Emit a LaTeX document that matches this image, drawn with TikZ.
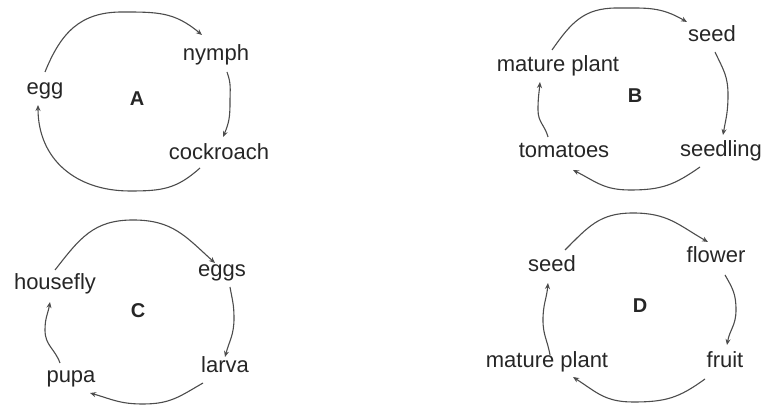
\documentclass[tikz,border=0pt]{standalone}
\usepackage{fontspec}
\setmainfont{Liberation Sans}
\usetikzlibrary{arrows.meta}
\tikzset{
  lbl/.style={anchor=base, inner sep=0pt, text=black!85, font=\fontsize{22}{26}\selectfont},
  tag/.style={anchor=base, inner sep=0pt, text=black!85, font=\fontsize{20}{24}\selectfont\bfseries},
  cyc/.style={draw=black!70, line width=1.1pt, looseness=1.1, -{Stealth[length=6pt,width=5pt]}}
}
\begin{document}
\begin{tikzpicture}[x=1pt,y=1pt]
\useasboundingbox (0,0) rectangle (761,406);
% ---------- A ----------
\node[lbl] (nymph) at (216,345) {nymph};
\node[lbl] (egg) at (45,311) {egg};
\node[lbl] (cockroach) at (219,246) {cockroach};
\node[tag] (A) at (137,300) {A};
\coordinate (a1s) at (45,334);  \coordinate (a1m) at (122,394); \coordinate (a1e) at (202,371);
\coordinate (a2s) at (227,334); \coordinate (a2m) at (230,304); \coordinate (a2e) at (223,269);
\coordinate (a3s) at (200,238); \coordinate (a3m) at (130,215); \coordinate (a3e) at (38,301);
\draw[cyc] (a1s) to[out=68,in=180] (a1m) to[out=0,in=140] (a1e);
\draw[cyc] (a2s) to[out=-70,in=90] (a2m) to[out=-90,in=67] (a2e);
\draw[cyc] (a3s) to[out=-138,in=0] (a3m) to[out=180,in=-90] (a3e);
% ---------- B ----------
\node[lbl] (seedB) at (712,364) {seed};
\node[lbl] (matureB) at (558,334) {mature plant};
\node[lbl] (seedling) at (721,249) {seedling};
\node[lbl] (tomatoes) at (564,248) {tomatoes};
\node[tag] (B) at (635,303) {B};
\coordinate (b1s) at (552,356); \coordinate (b1m) at (617,398); \coordinate (b1e) at (687,384);
\coordinate (b2s) at (715,354); \coordinate (b2m) at (728,311); \coordinate (b2e) at (723,271);
\coordinate (b3s) at (700,239); \coordinate (b3m) at (630,216); \coordinate (b3e) at (573,236);
\coordinate (b4s) at (548,269); \coordinate (b4m) at (538,296); \coordinate (b4e) at (540,324);
\draw[cyc] (b1s) to[out=55,in=180] (b1m) to[out=0,in=150] (b1e);
\draw[cyc] (b2s) to[out=-65,in=90] (b2m) to[out=-90,in=80] (b2e);
\draw[cyc] (b3s) to[out=-145,in=0] (b3m) to[out=180,in=-27] (b3e);
\draw[cyc] (b4s) to[out=105,in=-90] (b4m) to[out=90,in=-95] (b4e);
% ---------- C ----------
\node[lbl] (eggs) at (222,129) {eggs};
\node[lbl] (housefly) at (55,116) {housefly};
\node[lbl] (larva) at (225,33) {larva};
\node[lbl] (pupa) at (71,23) {pupa};
\node[tag] (C) at (138,88) {C};
\coordinate (c1s) at (55,136);  \coordinate (c1m) at (133,186); \coordinate (c1e) at (215,143);
\coordinate (c2s) at (230,119); \coordinate (c2m) at (234,88);  \coordinate (c2e) at (225,49);
\coordinate (c3s) at (203,23);  \coordinate (c3m) at (143,2);   \coordinate (c3e) at (90,13);
\coordinate (c4s) at (60,43);   \coordinate (c4m) at (45,76);   \coordinate (c4e) at (50,104);
\draw[cyc] (c1s) to[out=52,in=180] (c1m) to[out=0,in=138] (c1e);
\draw[cyc] (c2s) to[out=-80,in=90] (c2m) to[out=-90,in=75] (c2e);
\draw[cyc] (c3s) to[out=-150,in=0] (c3m) to[out=180,in=-16] (c3e);
\draw[cyc] (c4s) to[out=110,in=-90] (c4m) to[out=90,in=-100] (c4e);
% ---------- D ----------
\node[lbl] (flower) at (716,143) {flower};
\node[lbl] (seedD) at (552,134) {seed};
\node[lbl] (fruit) at (725,38) {fruit};
\node[lbl] (matureD) at (547,38) {mature plant};
\node[tag] (D) at (640,93) {D};
\coordinate (d1s) at (565,156); \coordinate (d1m) at (633,193); \coordinate (d1e) at (708,164);
\coordinate (d2s) at (725,131); \coordinate (d2m) at (736,96);  \coordinate (d2e) at (727,61);
\coordinate (d3s) at (705,27);  \coordinate (d3m) at (633,4);   \coordinate (d3e) at (573,29);
\coordinate (d4s) at (550,51);  \coordinate (d4m) at (543,86);  \coordinate (d4e) at (548,123);
\draw[cyc] (d1s) to[out=45,in=180] (d1m) to[out=0,in=150] (d1e);
\draw[cyc] (d2s) to[out=-60,in=90] (d2m) to[out=-90,in=80] (d2e);
\draw[cyc] (d3s) to[out=-144,in=0] (d3m) to[out=180,in=-33] (d3e);
\draw[cyc] (d4s) to[out=100,in=-90] (d4m) to[out=90,in=-95] (d4e);
\end{tikzpicture}
\end{document}
